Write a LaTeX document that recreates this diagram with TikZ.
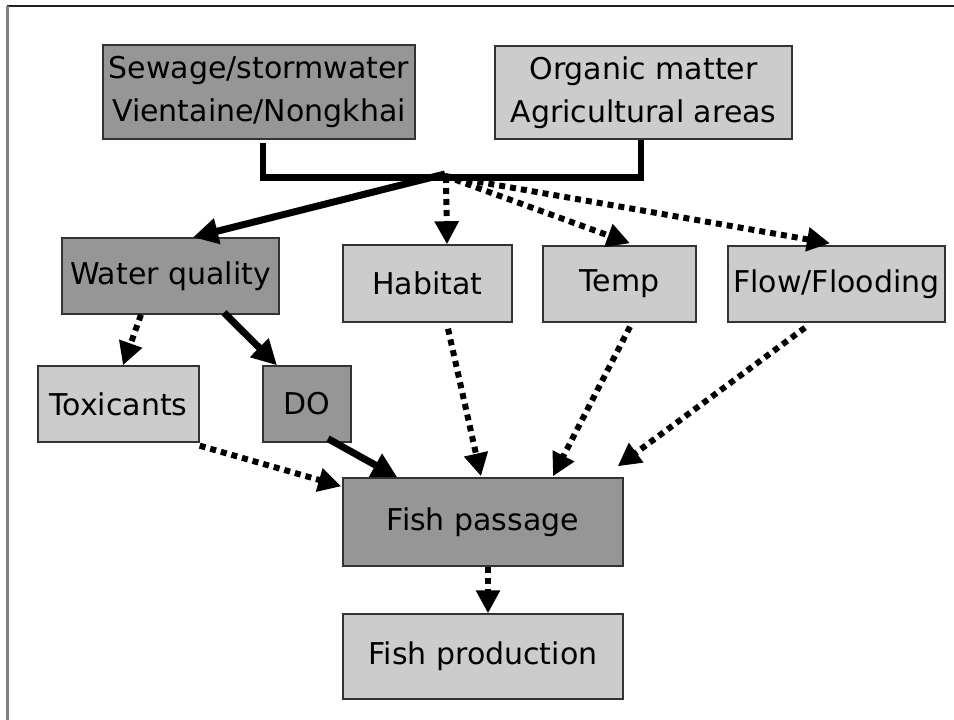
\documentclass[tikz,border=0pt]{standalone}
\usepackage{fontspec}
\setmainfont{DejaVu Sans}
\usetikzlibrary{arrows.meta}
\definecolor{boxdark}{gray}{0.59}
\definecolor{boxlight}{gray}{0.80}
\definecolor{edge}{gray}{0.2}
\definecolor{frameleft}{gray}{0.5}
\definecolor{frametop}{gray}{0.13}
\begin{document}
\begin{tikzpicture}[x=1pt,y=-1pt,
  box/.style={draw=edge, line width=1.4pt, inner sep=0pt, align=center,
    font=\fontsize{30}{43}\selectfont},
  darkbox/.style={box, fill=boxdark},
  lightbox/.style={box, fill=boxlight},
  solidarrow/.style={line width=7pt, -{Triangle[length=25pt,width=25pt]}},
  dotarrow/.style={line width=6pt, dash pattern=on 6pt off 5pt,
    -{Triangle[length=23pt,width=23pt]}},
  bracket/.style={line width=6.5pt}]
\useasboundingbox (0,0) rectangle (954,720);

% page frame
\draw[frametop, line width=1.5pt] (7,6) -- (954,6);
\draw[frameleft, line width=2.5pt] (7.5,6) -- (7.5,720);

% sources
\node[darkbox, minimum width=312pt, minimum height=94pt] (sew) at (259,92)
  {Sewage/stormwater\\Vientaine/Nongkhai};
\node[lightbox, minimum width=297pt, minimum height=93pt] (org) at (643.5,92.5)
  {Organic matter\\Agricultural areas};

% middle level
\node[darkbox, minimum width=217pt, minimum height=76pt] (wq) at (170.5,276) {Water quality};
\node[lightbox, minimum width=169pt, minimum height=77pt] (hab) at (427.5,283.5) {Habitat};
\node[lightbox, minimum width=153pt, minimum height=76pt] (temp) at (619.5,284) {Temp};
\node[lightbox, minimum width=217pt, minimum height=76pt] (flow) at (836.5,284) {Flow/Flooding};

% water quality components
\node[lightbox, minimum width=161pt, minimum height=76pt] (tox) at (118.5,404) {Toxicants};
\node[darkbox, minimum width=88pt, minimum height=76pt] (do) at (307,404) {DO};

% outcomes
\node[darkbox, minimum width=280pt, minimum height=88pt] (fp) at (483,522) {Fish passage};
\node[lightbox, minimum width=280pt, minimum height=85pt] (prod) at (483,656.5) {Fish production};

% bracket joining the two sources
\coordinate (jn) at (445,174);
\draw[bracket] ([xshift=4pt,yshift=-3pt]sew.south) -- ++(0,35) -| ([xshift=-2.5pt]org.south);

% from the sources
\draw[solidarrow] (jn) -- ([xshift=22.5pt]wq.north);
\draw[dotarrow] ([xshift=1pt,yshift=-3pt]jn) -- ([xshift=19.5pt]hab.north);
\draw[dotarrow] ([yshift=-2pt]jn) -- ([xshift=10.5pt,yshift=2pt]temp.north);
\draw[dotarrow] ([yshift=-2pt]jn) -- ([xshift=-6.5pt,yshift=2pt]flow.north);

% water quality split
\draw[dotarrow] ([xshift=-29.5pt]wq.south) -- ([xshift=4.5pt]tox.north);
\draw[solidarrow] ([xshift=53.5pt,yshift=2pt]wq.south) -- ([xshift=-30pt]do.north);

% into fish passage
\draw[dotarrow] ([yshift=-3pt]tox.south east) -- ([xshift=-1pt,yshift=-9pt]fp.north west);
\draw[solidarrow] ([xshift=21pt,yshift=4pt]do.south) -- ([xshift=55pt]fp.north west);
\draw[dotarrow] ([xshift=20.5pt,yshift=-6pt]hab.south) -- ([xshift=-2pt,yshift=1pt]fp.north);
\draw[dotarrow] ([xshift=10.5pt,yshift=-4pt]temp.south) -- ([xshift=70pt,yshift=1pt]fp.north);
\draw[dotarrow] ([xshift=-31.5pt,yshift=-5pt]flow.south) -- ([xshift=-6pt,yshift=11pt]fp.north east);

% passage to production
\draw[dotarrow] ([xshift=5pt]fp.south) -- ([xshift=5pt]prod.north);
\end{tikzpicture}
\end{document}
